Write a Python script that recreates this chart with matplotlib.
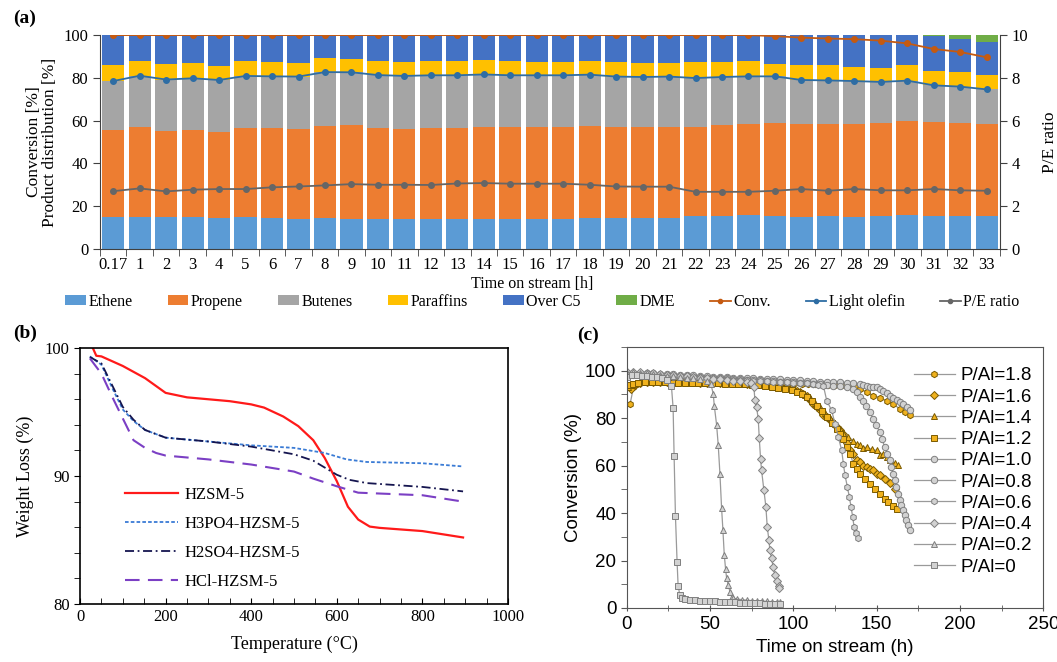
import numpy as np
import matplotlib
matplotlib.use("Agg")
import matplotlib.pyplot as plt
from matplotlib.lines import Line2D
from matplotlib.patches import Patch
from matplotlib.ticker import MultipleLocator, FixedLocator

SERIF = ['Liberation Serif', 'DejaVu Serif']
SANS = ['Liberation Sans', 'DejaVu Sans']

# ---------------- Panel (a) data ----------------
tos_labels = ['0.17'] + [str(i) for i in range(1, 34)]
ethene = [14.8, 14.8, 14.8, 14.8, 14.3, 14.8, 14.3, 14.0, 14.5, 14.0, 14.0, 14.0, 14.0, 14.0, 14.0, 14.0,
          14.0, 14.0, 14.3, 14.3, 14.3, 14.5, 15.2, 15.5, 15.7, 15.5, 15.1, 15.4, 14.9, 15.4, 15.7, 15.4, 15.4, 15.4]
propene = [40.6, 42.1, 40.4, 41.0, 40.6, 41.7, 42.2, 42.1, 43.2, 44.0, 42.6, 42.3, 42.6, 42.6, 43.2, 42.9,
           42.9, 43.2, 43.2, 42.9, 42.6, 42.7, 41.7, 42.5, 42.8, 43.3, 43.4, 42.8, 43.6, 43.4, 44.2, 44.0, 43.7, 43.1]
butenes = [23.1, 24.1, 24.0, 24.0, 24.1, 24.4, 24.2, 24.5, 25.0, 24.6, 24.7, 24.6, 24.6, 24.6, 24.4, 24.3,
           24.3, 24.0, 24.0, 23.4, 23.5, 23.4, 23.0, 22.4, 22.2, 21.9, 20.5, 20.6, 20.0, 19.3, 18.8, 17.1, 16.8, 16.1]
paraffins = [7.5, 7.0, 7.1, 7.0, 6.7, 7.0, 6.5, 6.5, 6.7, 6.0, 6.6, 6.5, 6.7, 6.7, 6.6, 6.7,
             6.4, 6.4, 6.5, 6.6, 6.7, 6.5, 7.7, 6.8, 7.3, 5.6, 7.0, 7.2, 6.7, 6.7, 7.1, 6.9, 7.0, 6.7]
over_c5 = [14.0, 12.0, 13.7, 13.2, 14.3, 12.1, 12.8, 12.9, 10.6, 11.4, 12.1, 12.6, 12.1, 12.1, 11.8, 12.1,
           12.4, 12.4, 12.0, 12.8, 12.9, 12.9, 12.4, 12.8, 12.0, 13.7, 14.0, 14.0, 14.8, 15.2, 14.2, 16.2, 15.3, 15.6]
dme = [0.0] * 31 + [0.4, 1.9, 3.0]
conversion = [100.0] * 25 + [99.5, 98.8, 98.4, 98.1, 97.4, 96.1, 93.5, 92.1, 89.6]
light_olefin = [78.5, 81.0, 79.2, 79.8, 79.0, 80.9, 80.7, 80.6, 82.7, 82.6, 81.3, 80.9, 81.2, 81.2, 81.6, 81.2,
                81.2, 81.2, 81.5, 80.6, 80.4, 80.6, 79.9, 80.4, 80.7, 80.7, 79.0, 78.8, 78.5, 78.1, 78.7, 76.5, 75.9, 74.6]
pe_ratio = [2.70, 2.83, 2.69, 2.77, 2.80, 2.80, 2.88, 2.92, 2.97, 3.03, 3.00, 3.00, 2.99, 3.06, 3.08, 3.05,
            3.05, 3.05, 3.00, 2.92, 2.91, 2.91, 2.67, 2.67, 2.67, 2.72, 2.80, 2.72, 2.80, 2.74, 2.74, 2.80, 2.74, 2.72]

# ---------------- Panel (b) data ----------------
temp_hzsm = [30, 38, 50, 100, 152, 200, 250, 300, 350, 400, 430, 475, 510, 545, 572, 600, 626, 650, 677, 700, 800, 895]
wl_hzsm = [100.0, 99.4, 99.35, 98.6, 97.65, 96.5, 96.15, 96.0, 95.85, 95.6, 95.35, 94.65, 93.9, 92.8, 91.4, 89.6, 87.6, 86.6, 86.05, 85.95, 85.7, 85.2]
temp_h3po4 = [23, 50, 78, 100, 125, 152, 200, 300, 400, 500, 572, 623, 670, 800, 895]
wl_h3po4 = [99.35, 98.7, 96.7, 95.2, 94.3, 93.6, 93.0, 92.7, 92.4, 92.2, 91.8, 91.3, 91.1, 91.0, 90.75]
temp_h2so4 = [23, 50, 78, 100, 125, 152, 200, 300, 400, 450, 500, 545, 580, 600, 630, 670, 800, 895]
wl_h2so4 = [99.3, 98.8, 96.9, 95.4, 94.4, 93.6, 93.0, 92.7, 92.3, 92.0, 91.7, 91.2, 90.5, 90.1, 89.7, 89.45, 89.15, 88.8]
temp_hcl = [23, 50, 78, 100, 125, 152, 178, 200, 300, 400, 500, 545, 600, 650, 800, 895]
wl_hcl = [99.2, 98.0, 96.0, 94.5, 92.8, 92.2, 91.8, 91.6, 91.3, 90.9, 90.35, 89.8, 89.2, 88.7, 88.5, 88.0]

# ---------------- Panel (c) data ----------------
t_18 = [2, 4, 6, 9, 13, 17, 21, 25, 29, 33, 37, 41, 45, 49, 53, 57, 61, 65, 69, 73, 77, 81, 85, 89, 93, 97, 101, 105, 109, 113, 117, 121, 125, 129, 133, 137, 140, 144, 148, 152, 156, 160, 164, 167, 170]
c_18 = [86.0, 93.0, 94.5, 95.2, 95.4, 95.5, 95.5, 95.5, 95.6, 95.5, 95.5, 95.4, 95.4, 95.3, 95.3, 95.2, 95.2, 95.1, 95.1, 95.0, 95.0, 94.9, 94.9, 94.8, 94.8, 94.7, 94.6, 94.5, 94.4, 94.3, 94.2, 94.1, 94.0, 93.8, 93.4, 92.9, 92.3, 91.0, 89.5, 88.5, 87.4, 85.8, 83.9, 82.5, 81.1]
t_16 = [2.6, 5, 8, 12, 16, 20, 24, 28, 32, 36, 40, 44, 48, 52, 56, 60, 64, 68, 72, 76, 80, 84, 88, 92, 96, 100, 102, 104, 106, 108, 110, 112, 114, 116, 118, 120, 122, 124, 126, 128, 130, 132, 134, 136, 138, 140, 142, 144, 146, 148, 150, 152, 155, 158, 161]
c_16 = [92.3, 94.0, 94.8, 95.0, 95.1, 95.1, 95.2, 95.1, 95.1, 95.0, 95.0, 94.9, 94.9, 94.8, 94.8, 94.7, 94.7, 94.6, 94.5, 94.4, 94.3, 94.0, 93.6, 93.2, 92.8, 92.3, 91.6, 91.0, 90.2, 89.5, 87.6, 86.0, 84.5, 83.2, 81.5, 80.5, 79.0, 77.8, 76.2, 75.0, 73.4, 69.5, 66.4, 64.8, 62.2, 61.5, 60.0, 59.4, 58.7, 58.0, 56.6, 56.0, 54.5, 52.5, 50.3]
t_14 = [1, 3, 6, 10, 14, 18, 22, 26, 30, 34, 38, 42, 46, 50, 54, 58, 62, 66, 70, 74, 78, 82, 86, 90, 94, 98, 101, 104, 107, 110, 113, 116, 119, 122, 125, 128, 130, 133, 136, 138, 140, 142, 144, 147, 150, 152, 154, 156, 158, 161, 163]
c_14 = [93.0, 94.0, 94.6, 95.0, 95.2, 95.2, 95.1, 95.1, 95.0, 95.0, 94.9, 94.9, 94.8, 94.8, 94.7, 94.7, 94.6, 94.5, 94.4, 94.3, 94.1, 93.9, 93.6, 93.3, 93.0, 92.5, 91.8, 90.8, 89.9, 88.3, 86.5, 84.5, 82.2, 80.0, 77.5, 75.5, 73.8, 72.0, 70.5, 69.0, 68.8, 67.5, 67.8, 66.8, 66.4, 64.5, 65.0, 63.5, 62.2, 61.0, 60.1]
t_12 = [1, 4, 7, 11, 15, 19, 23, 27, 31, 35, 39, 43, 47, 51, 55, 59, 63, 67, 71, 75, 79, 83, 87, 91, 95, 99, 102, 105, 108, 111, 114, 117, 120, 123, 126, 128, 130, 132, 134, 136, 138, 140, 143, 146, 149, 152, 155, 157, 160, 162]
c_12 = [94.0, 94.5, 94.9, 95.1, 95.1, 95.0, 95.0, 94.9, 94.9, 94.8, 94.8, 94.7, 94.7, 94.6, 94.6, 94.5, 94.4, 94.3, 94.2, 94.0, 93.8, 93.5, 93.1, 92.7, 92.3, 91.8, 91.0, 90.0, 88.8, 87.2, 85.3, 83.0, 80.5, 78.0, 75.2, 73.5, 71.0, 68.0, 65.0, 60.8, 58.5, 56.6, 54.5, 52.4, 50.0, 48.2, 46.0, 44.7, 43.0, 41.9]
t_10 = [0, 4, 8, 12, 16, 20, 24, 28, 32, 36, 40, 44, 48, 52, 56, 60, 64, 68, 72, 76, 80, 84, 88, 92, 96, 100, 104, 108, 112, 116, 120, 124, 128, 132, 136, 140, 142, 144, 146, 148, 150, 152, 154, 156, 158, 160, 162, 164, 166, 168, 170]
c_10 = [99.0, 99.2, 99.1, 99.0, 98.9, 98.7, 98.6, 98.4, 98.3, 98.1, 98.0, 97.8, 97.7, 97.5, 97.4, 97.3, 97.1, 97.0, 96.9, 96.8, 96.6, 96.5, 96.4, 96.3, 96.1, 96.0, 95.9, 95.7, 95.6, 95.4, 95.3, 95.1, 95.0, 94.8, 94.6, 94.4, 94.0, 93.6, 93.3, 93.2, 93.0, 92.2, 91.5, 90.5, 89.5, 88.6, 87.8, 86.9, 86.0, 84.6, 83.2]
t_08 = [0, 4, 8, 12, 16, 20, 24, 28, 32, 36, 40, 44, 48, 52, 56, 60, 64, 68, 72, 76, 80, 84, 88, 92, 96, 100, 104, 108, 112, 116, 120, 124, 128, 132, 136, 138, 139.7, 141.8, 143.8, 145.8, 147.8, 149.8, 151.8, 153.3, 154.8, 156.3, 157.8, 158.8, 159.8, 160.8, 161.8, 162.8, 163.8, 164.8, 165.8, 166.8, 167.8, 168.8, 170]
c_08 = [98.5, 98.8, 98.7, 98.5, 98.4, 98.2, 98.0, 97.9, 97.7, 97.6, 97.4, 97.3, 97.1, 97.0, 96.8, 96.7, 96.5, 96.4, 96.2, 96.1, 95.9, 95.7, 95.6, 95.4, 95.2, 95.0, 94.8, 94.6, 94.4, 94.2, 94.0, 93.7, 93.4, 93.0, 92.3, 91.0, 88.8, 87.0, 85.3, 82.5, 79.7, 77.0, 74.1, 71.0, 67.8, 65.0, 62.2, 59.4, 56.6, 53.8, 51.0, 48.2, 45.4, 43.3, 41.2, 39.1, 37.0, 34.9, 32.8]
t_06 = [0, 4, 8, 12, 16, 20, 24, 28, 32, 36, 40, 44, 48, 52, 56, 60, 64, 68, 72, 76, 80, 84, 88, 92, 96, 100, 104, 108, 112, 115, 118, 120, 123, 125, 127, 129, 130, 131, 132.4, 133.6, 134.6, 135.6, 136.4, 137.6, 138.6]
c_06 = [98.0, 98.3, 98.2, 98.0, 97.9, 97.7, 97.6, 97.4, 97.3, 97.1, 97.0, 96.9, 96.7, 96.6, 96.4, 96.3, 96.2, 96.0, 95.9, 95.8, 95.6, 95.5, 95.4, 95.2, 95.1, 94.9, 94.8, 94.6, 94.4, 94.1, 93.7, 87.4, 83.2, 77.6, 72.0, 66.4, 60.8, 55.9, 51.0, 46.8, 42.6, 38.4, 34.2, 31.4, 29.3]
t_04 = [0, 4, 8, 12, 16, 20, 24, 28, 32, 36, 40, 44, 48, 52, 56, 60, 64, 68, 72, 74.5, 76.3, 76.9, 77.9, 78.9, 79.5, 80.3, 80.9, 82.3, 83.5, 84.3, 85.3, 85.9, 86.9, 87.9, 88.9, 90.3, 91.1, 91.6]
c_04 = [99.5, 99.6, 99.4, 99.1, 98.9, 98.6, 98.3, 98.1, 97.9, 97.6, 97.3, 97.1, 96.8, 96.5, 96.3, 96.0, 95.8, 95.5, 95.2, 94.6, 93.0, 87.7, 84.6, 79.7, 71.7, 62.9, 58.0, 49.6, 42.6, 34.2, 28.6, 24.4, 20.9, 17.1, 13.9, 11.5, 9.2, 8.4]
t_02 = [0, 4, 8, 12, 16, 20, 24, 28, 32, 36, 40, 44, 48, 50.5, 51.9, 52.5, 53.9, 54.9, 55.9, 56.9, 57.7, 58.5, 59.3, 59.9, 60.9, 61.9, 62.9, 64, 66, 69, 72, 75, 78, 81, 84, 87, 90, 92]
c_02 = [99.0, 99.3, 99.1, 98.8, 98.5, 98.2, 97.9, 97.6, 97.3, 97.0, 96.7, 96.3, 95.7, 94.3, 90.2, 85.3, 77.2, 68.5, 56.6, 42.1, 32.8, 22.5, 16.4, 12.7, 9.7, 6.9, 4.8, 4.2, 3.8, 3.5, 3.3, 3.1, 3.0, 2.9, 2.8, 2.7, 2.6, 2.5]
t_00 = [0, 3, 6, 9, 12, 15, 18, 21, 24, 26.8, 27.8, 28.4, 29.2, 30.2, 30.8, 31.8, 33, 35, 38, 41, 44, 47, 50, 53, 56, 59, 62, 65, 68, 71, 74, 77, 80, 83, 86, 89, 92]
c_00 = [97.5, 98.0, 98.0, 97.8, 97.6, 97.4, 97.2, 96.8, 96.2, 93.4, 84.3, 64.0, 38.8, 19.2, 9.4, 5.5, 4.4, 3.9, 3.5, 3.3, 3.1, 3.0, 2.9, 2.8, 2.7, 2.6, 2.5, 2.4, 2.3, 2.2, 2.1, 2.0, 1.9, 1.8, 1.7, 1.6, 1.5]

# ---------------- Figure ----------------
fig = plt.figure(figsize=(10.57, 6.62), dpi=100)
fig.patch.set_facecolor('white')

# ===== Panel (a) =====
ax = fig.add_axes([0.0946, 0.624, 0.8514, 0.323])
x = np.arange(len(tos_labels))
comp = [(ethene, '#5B9BD5', 'Ethene'), (propene, '#ED7D31', 'Propene'), (butenes, '#A5A5A5', 'Butenes'),
        (paraffins, '#FFC000', 'Paraffins'), (over_c5, '#4472C4', 'Over C5'), (dme, '#70AD47', 'DME')]
bottom = np.zeros(len(x))
for vals, col, lab in comp:
    v = np.array(vals)
    ax.bar(x, v, 0.84, bottom=bottom, color=col, linewidth=0, zorder=1)
    bottom += v
ax.plot(x, conversion, color='#C55A11', marker='o', ms=4, lw=1.3, zorder=3)
ax.plot(x, light_olefin, color='#2E6DA4', marker='o', ms=4, lw=1.3, zorder=3)
ax.set_xlim(-0.5, len(x) - 0.5)
ax.set_ylim(0, 100)
ax.set_yticks(range(0, 101, 20))
ax.set_xticks(x)
ax.set_xticklabels(tos_labels)
ax.xaxis.set_minor_locator(FixedLocator(np.arange(-0.5, len(x), 1.0)))
ax.tick_params(axis='x', which='major', length=0, pad=6)
ax.tick_params(axis='x', which='minor', length=5, direction='out', color='#404040')
ax.tick_params(axis='y', length=5, direction='out', color='#404040')
for s in ['top', 'right']:
    ax.spines[s].set_visible(False)
for s in ['left', 'bottom']:
    ax.spines[s].set_color('#404040')
for lab in ax.get_xticklabels() + ax.get_yticklabels():
    lab.set_fontfamily(SERIF)
    lab.set_fontsize(12)
ax.set_xlabel('Time on stream [h]', fontfamily=SERIF, fontsize=11.5, labelpad=0)
ax.xaxis.set_label_coords(0.48, -0.125)
ax.set_ylabel('Conversion [%]\nProduct distribution [%]', fontfamily=SERIF, fontsize=12.5, labelpad=4, linespacing=1.0)

ax2 = ax.twinx()
ax2.plot(x, pe_ratio, color='#666666', marker='o', ms=4, lw=1.3, zorder=3)
ax2.set_ylim(0, 10)
ax2.set_yticks(range(0, 11, 2))
ax2.tick_params(axis='y', length=5, direction='out', color='#404040')
for s in ['top', 'left', 'bottom']:
    ax2.spines[s].set_visible(False)
ax2.spines['right'].set_color('#404040')
for lab in ax2.get_yticklabels():
    lab.set_fontfamily(SERIF)
    lab.set_fontsize(12)
ax2.set_ylabel('P/E ratio', fontfamily=SERIF, fontsize=12.5, labelpad=10)

handles = [Patch(facecolor=c, label=l) for _, c, l in comp]
handles += [Line2D([], [], color='#C55A11', marker='o', ms=3, lw=1.3, label='Conv.'),
            Line2D([], [], color='#2E6DA4', marker='o', ms=3, lw=1.3, label='Light olefin'),
            Line2D([], [], color='#666666', marker='o', ms=3, lw=1.3, label='P/E ratio')]
fig.legend(handles=handles, ncol=9, loc='center', bbox_to_anchor=(0.513, 0.544), frameon=False,
           prop={'family': SERIF, 'size': 11.5}, handlelength=1.3, handleheight=0.6, handletextpad=0.15,
           columnspacing=2.2, borderpad=0.1)
fig.text(0.012, 0.972, '(a)', fontfamily=SERIF, fontsize=14, fontweight='bold', va='center')

# ===== Panel (b) =====
bx = fig.add_axes([0.0757, 0.0876, 0.4049, 0.3866])
bx.plot(temp_hzsm, wl_hzsm, color='#FF1A1A', lw=1.6, label='HZSM-5')
bx.plot(temp_h3po4, wl_h3po4, color='#3A7BD5', lw=1.3, ls=(0, (2, 1.2)), label='H3PO4-HZSM-5')
bx.plot(temp_h2so4, wl_h2so4, color='#15154F', lw=1.3, ls=(0, (5, 2, 1, 2)), label='H2SO4-HZSM-5')
bx.plot(temp_hcl, wl_hcl, color='#7B3FC4', lw=1.5, ls=(0, (7, 4)), label='HCl-HZSM-5')
bx.set_xlim(0, 1000)
bx.set_ylim(80, 100)
bx.set_xticks(range(0, 1001, 200))
bx.set_yticks([80, 90, 100])
bx.xaxis.set_minor_locator(MultipleLocator(50))
bx.yaxis.set_minor_locator(MultipleLocator(2))
bx.tick_params(axis='x', which='both', direction='in', length=4)
bx.tick_params(axis='y', which='both', direction='out', length=4)
for s in bx.spines.values():
    s.set_linewidth(1.2)
for lab in bx.get_xticklabels() + bx.get_yticklabels():
    lab.set_fontfamily(SERIF)
    lab.set_fontsize(12)
bx.set_xlabel('Temperature (°C)', fontfamily=SERIF, fontsize=13, labelpad=8)
bx.set_ylabel('Weight Loss (%)', fontfamily=SERIF, fontsize=13, labelpad=8)
bx.legend(loc='lower left', bbox_to_anchor=(0.07, -0.005), frameon=False, prop={'family': SERIF, 'size': 12},
          handlelength=3.2, handletextpad=0.4, labelspacing=0.78)
fig.text(0.012, 0.497, '(b)', fontfamily=SERIF, fontsize=14, fontweight='bold', va='center')

# ===== Panel (c) =====
cx = fig.add_axes([0.593, 0.0816, 0.394, 0.3944])
gold = '#F0B21E'
gold_edge = '#7A5A00'
gray_fill = '#D2D2D2'
gray_edge = '#7F7F7F'
series_c = [
    (t_18, c_18, 'h', gold, gold_edge, 'P/Al=1.8'),
    (t_16, c_16, 'D', gold, gold_edge, 'P/Al=1.6'),
    (t_14, c_14, '^', gold, gold_edge, 'P/Al=1.4'),
    (t_12, c_12, 's', gold, gold_edge, 'P/Al=1.2'),
    (t_10, c_10, 'o', gray_fill, gray_edge, 'P/Al=1.0'),
    (t_08, c_08, 'o', gray_fill, gray_edge, 'P/Al=0.8'),
    (t_06, c_06, 'h', gray_fill, gray_edge, 'P/Al=0.6'),
    (t_04, c_04, 'D', gray_fill, gray_edge, 'P/Al=0.4'),
    (t_02, c_02, '^', gray_fill, gray_edge, 'P/Al=0.2'),
    (t_00, c_00, 's', gray_fill, gray_edge, 'P/Al=0'),
]
for t, c, mk, fc, ec, lab in series_c:
    ms = 4.6 if mk != 'D' else 3.8
    cx.plot(t, c, color='#9A9A9A', lw=0.9, marker=mk, ms=ms, mfc=fc, mec=ec, mew=0.7, label=lab)
cx.set_xlim(0, 250)
cx.set_ylim(0, 110)
cx.set_xticks(range(0, 251, 50))
cx.set_yticks(range(0, 101, 20))
cx.xaxis.set_minor_locator(MultipleLocator(25))
cx.yaxis.set_minor_locator(MultipleLocator(10))
cx.tick_params(axis='x', which='both', direction='inout', length=5, color='#555555')
cx.tick_params(axis='y', which='both', direction='out', length=4, color='#555555')
for s in cx.spines.values():
    s.set_color('#555555')
for lab in cx.get_xticklabels() + cx.get_yticklabels():
    lab.set_fontfamily(SANS)
    lab.set_fontsize(13.5)
cx.set_xlabel('Time on stream (h)', fontfamily=SANS, fontsize=13.5, labelpad=4)
cx.set_ylabel('Conversion (%)', fontfamily=SANS, fontsize=13.5, labelpad=2)
cx.legend(loc='upper right', bbox_to_anchor=(1.0, 0.965), frameon=False, prop={'family': SANS, 'size': 13.5},
          handlelength=2.2, handletextpad=0.3, labelspacing=0.22, borderaxespad=0.2)
fig.text(0.546, 0.493, '(c)', fontfamily=SERIF, fontsize=14, fontweight='bold', va='center')

fig.savefig('out.png', dpi=100, facecolor='white')
